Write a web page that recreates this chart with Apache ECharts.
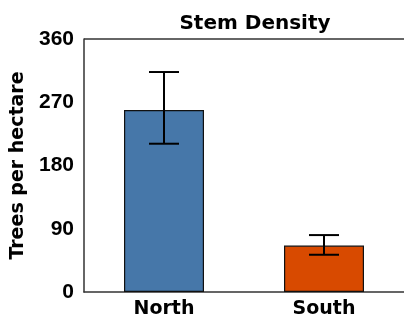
<!DOCTYPE html>
<html lang="en">
<head>
    <meta charset="UTF-8">
    <title>Stem Density</title>
    <script src="https://cdn.jsdelivr.net/npm/echarts@6/dist/echarts.min.js"></script>
    <style>
        html, body, #chart {
            width: 404px;
            height: 324px;
            padding: 0;
            margin: 0;
            background: #fff;
        }
    </style>
</head>
<body>
<div id="chart"></div>
<script>
    var categories = ["North", "South"];
    var means = [259, 66];
    var errLow = [211, 53];
    var errHigh = [313, 81];
    var barColors = ["#4677a9", "#d84a00"];
    var yTicks = [0, 90, 180, 270, 360];

    var myChart = echarts.init(document.getElementById("chart"));
    var wide = "DejaVu Sans, sans-serif";
    var narrow = "Liberation Sans, Arial, sans-serif";

    var errData = categories.map(function (c, i) {
        return [i, errLow[i], errHigh[i]];
    });

    myChart.setOption({
        animation: false,
        title: {
            text: "Stem Density",
            left: 250,
            textAlign: "center",
            top: 9,
            textStyle: {fontFamily: wide, fontWeight: "bold", fontSize: 20, color: "#000"}
        },
        grid: {left: 84, right: 0, top: 39, bottom: 32},
        xAxis: {
            type: "category",
            data: categories,
            axisLine: {lineStyle: {color: "#333", width: 1.5}},
            axisTick: {show: false},
            axisLabel: {fontFamily: wide, fontWeight: "bold", fontSize: 19, color: "#000", margin: 8}
        },
        yAxis: {
            type: "value",
            min: yTicks[0],
            max: yTicks[yTicks.length - 1],
            interval: 90,
            name: "Trees per hectare",
            nameLocation: "middle",
            nameGap: 51,
            nameTextStyle: {fontFamily: wide, fontWeight: "bold", fontSize: 19, color: "#000"},
            axisLine: {show: true, lineStyle: {color: "#333", width: 1.5}},
            axisTick: {show: false},
            splitLine: {show: false},
            axisLabel: {fontFamily: narrow, fontWeight: "bold", fontSize: 21, color: "#000", margin: 10}
        },
        series: [{
            type: "bar",
            barWidth: "50%",
            data: means.map(function (v, i) {
                return {value: v, itemStyle: {color: barColors[i]}};
            }),
            itemStyle: {borderColor: "#111", borderWidth: 1.2}
        }, {
            type: "custom",
            data: errData,
            z: 10,
            renderItem: function (params, api) {
                var x = api.value(0);
                var lo = api.coord([x, api.value(1)]);
                var hi = api.coord([x, api.value(2)]);
                var hw = 15;
                var st = {stroke: "#000", lineWidth: 2};
                return {
                    type: "group",
                    children: [
                        {type: "line", shape: {x1: lo[0], y1: lo[1], x2: hi[0], y2: hi[1]}, style: st},
                        {type: "line", shape: {x1: lo[0] - hw, y1: lo[1], x2: lo[0] + hw, y2: lo[1]}, style: st},
                        {type: "line", shape: {x1: hi[0] - hw, y1: hi[1], x2: hi[0] + hw, y2: hi[1]}, style: st}
                    ]
                };
            }
        }]
    });

    // top spine of the plot box
    var topY = myChart.convertToPixel({yAxisIndex: 0}, yTicks[yTicks.length - 1]);
    myChart.setOption({
        graphic: [{
            type: "line",
            shape: {x1: 84, y1: topY, x2: 404, y2: topY},
            style: {stroke: "#333", lineWidth: 1.5}
        }]
    });
</script>
</body>
</html>
